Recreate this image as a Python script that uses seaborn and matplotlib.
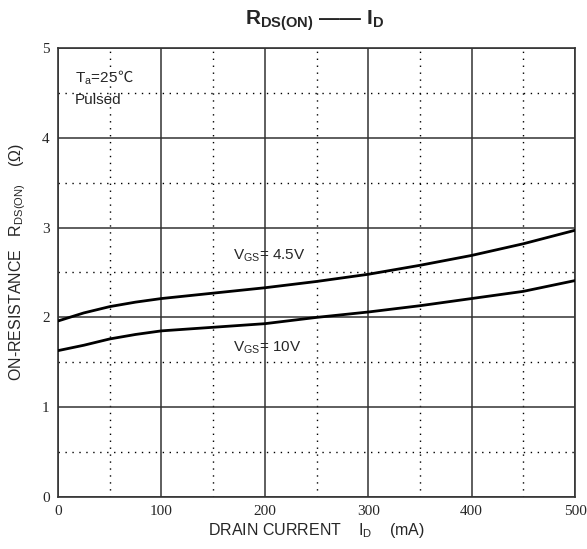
import numpy as np
import pandas as pd
import matplotlib
matplotlib.use('Agg')
import matplotlib.pyplot as plt
from matplotlib.transforms import IdentityTransform
import seaborn as sns

# values
drain_current = [0, 25, 50, 75, 100, 150, 200, 250, 300, 350, 400, 450, 500]
rds_vgs_45 = [1.96, 2.05, 2.12, 2.17, 2.21, 2.27, 2.33, 2.40, 2.48, 2.58, 2.69, 2.82, 2.97]
rds_vgs_10 = [1.63, 1.69, 1.76, 1.81, 1.85, 1.89, 1.93, 2.00, 2.06, 2.13, 2.21, 2.29, 2.41]
series_names = ['VGS=4.5V', 'VGS=10V']
x_ticks = [0, 100, 200, 300, 400, 500]
y_ticks = [0, 1, 2, 3, 4, 5]

df = pd.DataFrame({
    'id': drain_current * 2,
    'rds': rds_vgs_45 + rds_vgs_10,
    'vgs': [series_names[0]] * len(drain_current) + [series_names[1]] * len(drain_current),
})

sns.set_theme(style='white')
plt.rcParams['font.family'] = ['Liberation Sans', 'DejaVu Sans']
plt.rcParams['mathtext.fontset'] = 'custom'
plt.rcParams['mathtext.rm'] = 'Liberation Sans'
plt.rcParams['mathtext.bf'] = 'Liberation Sans:bold'

fig = plt.figure(figsize=(5.87, 5.49), dpi=100)
ax = fig.add_axes([0.0988, 0.0947, 0.8808, 0.8179])

# grid: solid major, dotted minor
for xv in range(0, 501, 100):
    ax.axvline(xv, color='#333333', lw=1.1, zorder=1)
for xv in range(50, 500, 100):
    ax.axvline(xv, color='black', lw=1.0, ls=(0, (1, 4)), zorder=1)
for yv in range(0, 6):
    ax.axhline(yv, color='#333333', lw=1.1, zorder=1)
for yv in np.arange(0.5, 5, 1.0):
    ax.axhline(yv, color='black', lw=1.0, ls=(0, (1, 4)), zorder=1)

sns.lineplot(data=df, x='id', y='rds', hue='vgs', palette=['black', 'black'],
             legend=False, lw=2.0, ax=ax, zorder=3)

ax.set_xlim(0, 500)
ax.set_ylim(0, 5)
ax.set_xticks(x_ticks)
ax.set_yticks(y_ticks)
for lab in ax.get_xticklabels() + ax.get_yticklabels():
    lab.set_fontfamily('Liberation Serif')
    lab.set_fontsize(11)
ax.tick_params(length=0, pad=6)
for sp in ax.spines.values():
    sp.set_color('#333333')
    sp.set_linewidth(1.2)

ax.set_xlabel(r'DRAIN CURRENT    $\mathregular{I_D}$    (mA)', fontsize=11.5, labelpad=2)
ax.set_ylabel(r'ON-RESISTANCE   $\mathregular{R_{DS(ON)}}$    ($\Omega$)', fontsize=11.5)
ax.yaxis.set_label_coords(-0.058, 0.523)

fig.text(0.535, 0.962, r'$\mathbf{R_{DS(ON)}}$ $\mathbf{——}$ $\mathbf{I_D}$', ha='center',
         va='center', fontsize=15, fontweight='bold')

ax.text(169, 2.69, r'$\mathregular{V_{GS}}$= 4.5V', ha='left', va='center', fontsize=11, zorder=4)
ax.text(169, 1.66, r'$\mathregular{V_{GS}}$= 10V', ha='left', va='center', fontsize=11, zorder=4)

ta = ax.text(16, 4.62, r'$\mathregular{T_a}$=25', ha='left', va='baseline', fontsize=11, zorder=4)
ax.text(16, 4.38, 'Pulsed', ha='left', va='baseline', fontsize=11, zorder=4)
fig.canvas.draw()
bb = ta.get_window_extent()
base_y = ax.transData.transform((16, 4.62))[1]
ax.text(bb.x1, base_y, '℃', transform=IdentityTransform(), ha='left', va='baseline',
        fontsize=11, family=['Noto Sans CJK SC', 'DejaVu Sans'], zorder=4)

fig.savefig('out.png', dpi=100)
